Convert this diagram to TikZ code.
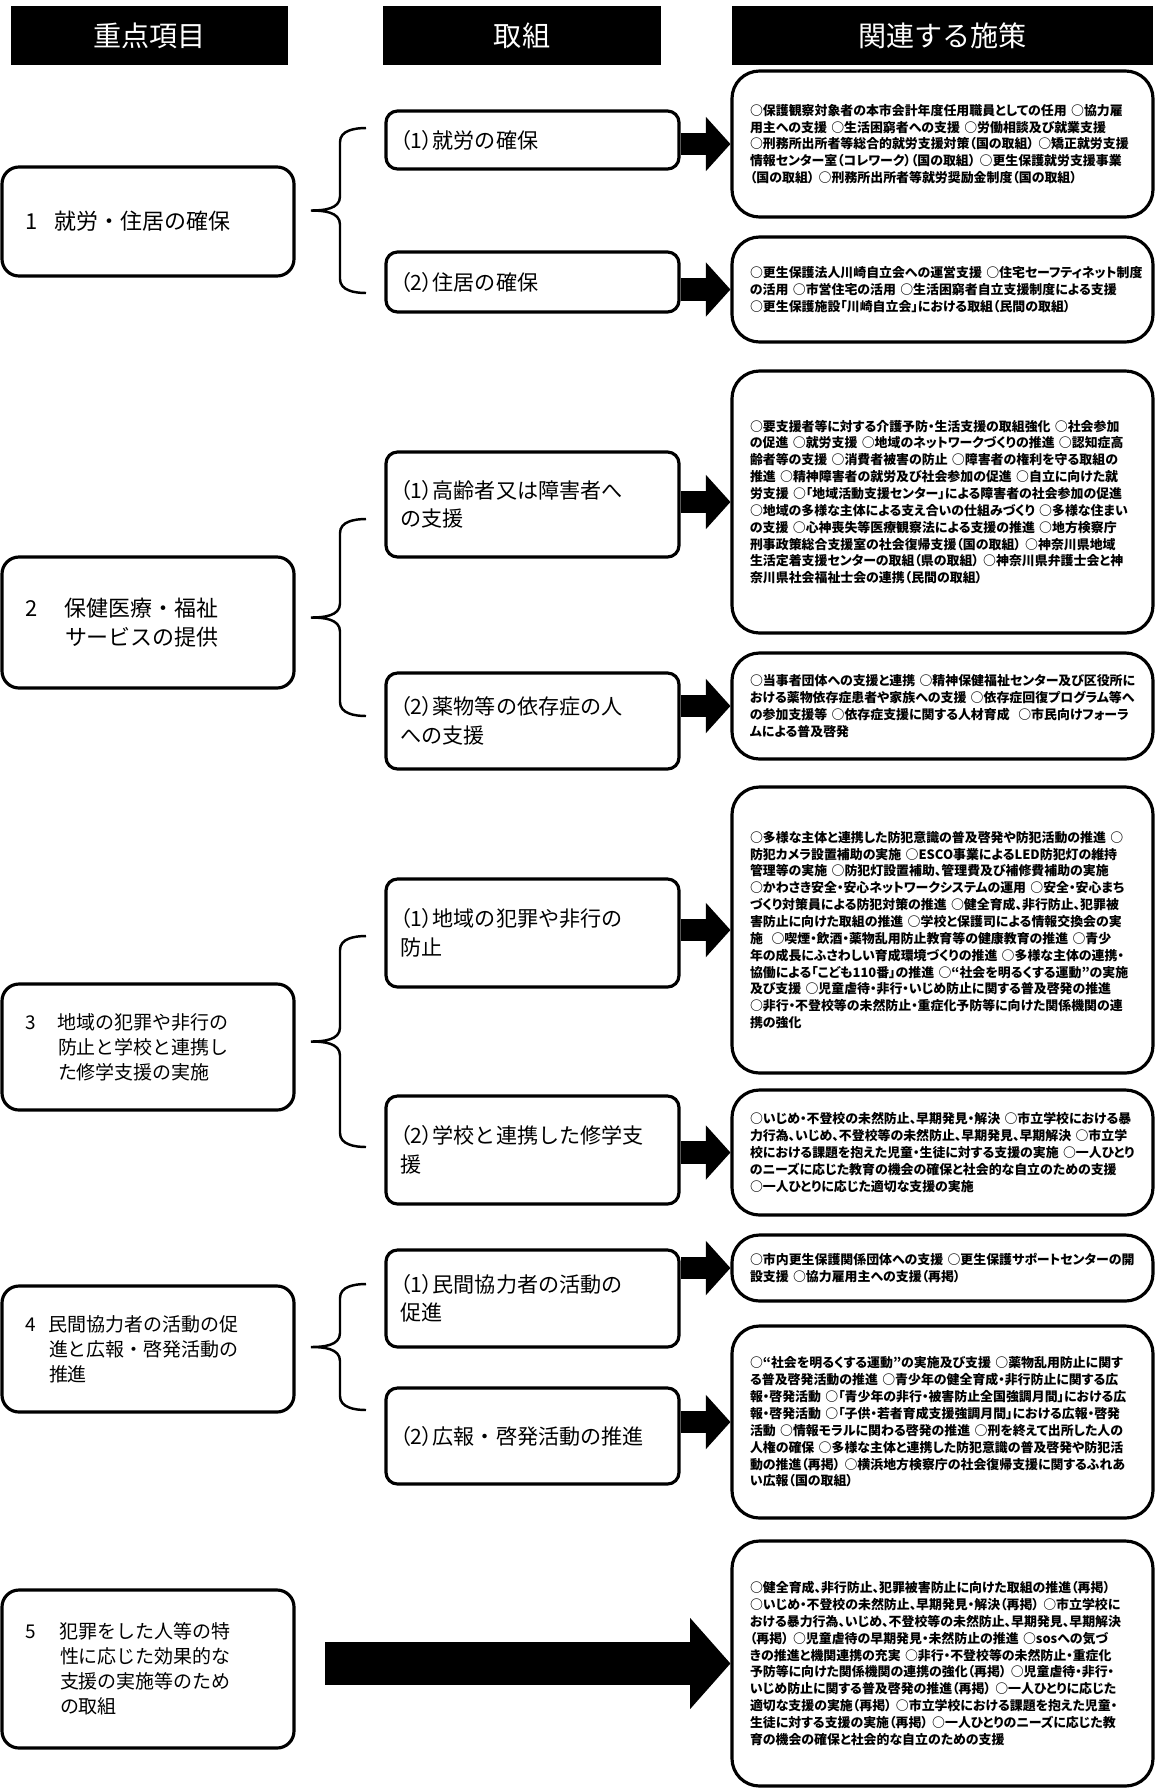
\documentclass[tikz,border=0pt]{standalone}
\usepackage{fontspec}
\setmainfont{Noto Sans CJK JP}
\newfontfamily\propjp{Noto Sans CJK JP}[RawFeature=+palt]
\usetikzlibrary{arrows.meta}

\newcommand\itemno[2]{\makebox[#1][l]{#2}}
\newcommand\actno[1]{{\propjp （#1）}}

\tikzset{
  colhead/.style={fill=black, text=white, minimum height=1.18cm, font=\fontsize{16}{19}\selectfont},
  keybox/.style={draw, line width=1.8pt, rounded corners=0.34cm, minimum width=5.84cm,
    inner xsep=0.46cm, text width=4.92cm, align=left, font=\fontsize{10.8}{14.2}\selectfont},
  actbox/.style={draw, line width=1.8pt, rounded corners=0.23cm, minimum width=5.86cm,
    inner xsep=0.28cm, text width=5.3cm, align=left, font=\fontsize{12}{16.2}\selectfont},
  policybox/.style={draw, line width=1.8pt, rounded corners=0.55cm, minimum width=8.42cm,
    inner xsep=0.36cm, text width=7.7cm, align=left, font={\propjp\bfseries\fontsize{7.35}{9.6}\selectfont}},
  toarrow/.style={line width=13pt, -{Triangle[width=31pt,length=14pt,line width=0pt]}},
  bigarrow/.style={line width=25pt, -{Triangle[width=52pt,length=23pt,line width=0pt]}},
  bracket/.style={line width=1.4pt}
}

\begin{document}
\begin{tikzpicture}
    \useasboundingbox (0,0) rectangle (23.1,-35.78);

    % column heads
    \node[colhead, minimum width=5.54cm] (h1) at (2.99,-0.71) {重点項目};
    \node[colhead, minimum width=5.56cm] (h2) at (10.44,-0.71) {取組};
    \node[colhead, minimum width=8.42cm] (h3) at (18.85,-0.71) {関連する施策};

    % key items
    \node[keybox, minimum height=2.18cm, font=\fontsize{12.5}{16.2}\selectfont] (l1) at (2.96,-4.43)
        {\itemno{0.6cm}{1}就労・住居の確保};
    \node[keybox, minimum height=2.62cm, font=\fontsize{12.5}{16.2}\selectfont] (l2) at (2.96,-12.45)
        {\itemno{0.8cm}{2}保健医療・福祉\\\hspace*{0.8cm}サービスの提供};
    \node[keybox, minimum height=2.52cm] (l3) at (2.96,-20.94)
        {\itemno{0.66cm}{3}地域の犯罪や非行の\\\hspace*{0.66cm}防止と学校と連携し\\\hspace*{0.66cm}た修学支援の実施};
    \node[keybox, minimum height=2.52cm] (l4) at (2.96,-26.98)
        {\itemno{0.48cm}{4}民間協力者の活動の促\\\hspace*{0.48cm}進と広報・啓発活動の\\\hspace*{0.48cm}推進};
    \node[keybox, minimum height=3.16cm] (l5) at (2.96,-33.38)
        {\itemno{0.7cm}{5}犯罪をした人等の特\\\hspace*{0.7cm}性に応じた効果的な\\\hspace*{0.7cm}支援の実施等のため\\\hspace*{0.7cm}の取組};

    % actions
    \node[actbox, minimum height=1.16cm] (m1a) at (10.65,-2.80) {\actno{1}就労の確保};
    \node[actbox, minimum height=1.20cm] (m1b) at (10.65,-5.64) {\actno{2}住居の確保};
    \node[actbox, minimum height=2.10cm] (m2a) at (10.65,-10.09) {\actno{1}高齢者又は障害者へ\\の支援};
    \node[actbox, minimum height=1.92cm] (m2b) at (10.65,-14.42) {\actno{2}薬物等の依存症の人\\への支援};
    \node[actbox, minimum height=2.16cm] (m3a) at (10.65,-18.66) {\actno{1}地域の犯罪や非行の\\防止};
    \node[actbox, minimum height=2.16cm] (m3b) at (10.65,-23.00) {\actno{2}学校と連携した修学支\\援};
    \node[actbox, minimum height=1.94cm] (m4a) at (10.65,-25.97) {\actno{1}民間協力者の活動の\\促進};
    \node[actbox, minimum height=1.92cm] (m4b) at (10.65,-28.72) {\actno{2}広報・啓発活動の推進};

    % related policies
    \node[policybox, minimum height=2.92cm] (r1) at (18.85,-2.88) {%
        ○保護観察対象者の本市会計年度任用職員としての任用~○協力雇\\
        用主への支援~○生活困窮者への支援~○労働相談及び就業支援\\
        ○刑務所出所者等総合的就労支援対策（国の取組）~○矯正就労支援\\
        情報センター室（コレワーク）（国の取組）~○更生保護就労支援事業\\
        （国の取組）~○刑務所出所者等就労奨励金制度（国の取組）};
    \node[policybox, minimum height=2.10cm] (r2) at (18.85,-5.79) {%
        ○更生保護法人川崎自立会への運営支援~○住宅セーフティネット制度\\
        の活用~○市営住宅の活用~○生活困窮者自立支援制度による支援\\
        ○更生保護施設「川崎自立会」における取組（民間の取組）};
    \node[policybox, minimum height=5.24cm] (r3) at (18.85,-10.04) {%
        ○要支援者等に対する介護予防・生活支援の取組強化~○社会参加\\
        の促進~○就労支援~○地域のネットワークづくりの推進~○認知症高\\
        齢者等の支援~○消費者被害の防止~○障害者の権利を守る取組の\\
        推進~○精神障害者の就労及び社会参加の促進~○自立に向けた就\\
        労支援~○「地域活動支援センター」による障害者の社会参加の促進\\
        ○地域の多様な主体による支え合いの仕組みづくり~○多様な住まい\\
        の支援~○心神喪失等医療観察法による支援の推進~○地方検察庁\\
        刑事政策総合支援室の社会復帰支援（国の取組）~○神奈川県地域\\
        生活定着支援センターの取組（県の取組）~○神奈川県弁護士会と神\\
        奈川県社会福祉士会の連携（民間の取組）};
    \node[policybox, minimum height=2.12cm] (r4) at (18.85,-14.12) {%
        ○当事者団体への支援と連携~○精神保健福祉センター及び区役所に\\
        おける薬物依存症患者や家族への支援~○依存症回復プログラム等へ\\
        の参加支援等~○依存症支援に関する人材育成~~○市民向けフォーラ\\
        ムによる普及啓発};
    \node[policybox, minimum height=5.72cm] (r5) at (18.85,-18.60) {%
        ○多様な主体と連携した防犯意識の普及啓発や防犯活動の推進~○\\
        防犯カメラ設置補助の実施~○ESCO事業によるLED防犯灯の維持\\
        管理等の実施~○防犯灯設置補助、管理費及び補修費補助の実施\\
        ○かわさき安全・安心ネットワークシステムの運用~○安全・安心まち\\
        づくり対策員による防犯対策の推進~○健全育成、非行防止、犯罪被\\
        害防止に向けた取組の推進~○学校と保護司による情報交換会の実\\
        施~~○喫煙・飲酒・薬物乱用防止教育等の健康教育の推進~○青少\\
        年の成長にふさわしい育成環境づくりの推進~○多様な主体の連携・\\
        協働による「こども110番」の推進~○“社会を明るくする運動”の実施\\
        及び支援~○児童虐待・非行・いじめ防止に関する普及啓発の推進\\
        ○非行・不登校等の未然防止・重症化予防等に向けた関係機関の連\\
        携の強化};
    \node[policybox, minimum height=2.50cm] (r6) at (18.85,-23.05) {%
        ○いじめ・不登校の未然防止、早期発見・解決~○市立学校における暴\\
        力行為、いじめ、不登校等の未然防止、早期発見、早期解決~○市立学\\
        校における課題を抱えた児童・生徒に対する支援の実施~○一人ひとり\\
        のニーズに応じた教育の機会の確保と社会的な自立のための支援\\
        ○一人ひとりに応じた適切な支援の実施};
    \node[policybox, minimum height=1.32cm] (r7) at (18.85,-25.36) {%
        ○市内更生保護関係団体への支援~○更生保護サポートセンターの開\\
        設支援~○協力雇用主への支援（再掲）};
    \node[policybox, minimum height=3.84cm] (r8) at (18.85,-28.44) {%
        ○“社会を明るくする運動”の実施及び支援~○薬物乱用防止に関す\\
        る普及啓発活動の推進~○青少年の健全育成・非行防止に関する広\\
        報・啓発活動~○「青少年の非行・被害防止全国強調月間」における広\\
        報・啓発活動~○「子供・若者育成支援強調月間」における広報・啓発\\
        活動~○情報モラルに関わる啓発の推進~○刑を終えて出所した人の\\
        人権の確保~○多様な主体と連携した防犯意識の普及啓発や防犯活\\
        動の推進（再掲）~○横浜地方検察庁の社会復帰支援に関するふれあ\\
        い広報（国の取組）};
    \node[policybox, minimum height=4.90cm] (r9) at (18.85,-33.27) {%
        ○健全育成、非行防止、犯罪被害防止に向けた取組の推進（再掲）\\
        ○いじめ・不登校の未然防止、早期発見・解決（再掲）~○市立学校に\\
        おける暴力行為、いじめ、不登校等の未然防止、早期発見、早期解決\\
        （再掲）~○児童虐待の早期発見・未然防止の推進~○sosへの気づ\\
        きの推進と機関連携の充実~○非行・不登校等の未然防止・重症化\\
        予防等に向けた関係機関の連携の強化（再掲）~○児童虐待・非行・\\
        いじめ防止に関する普及啓発の推進（再掲）~○一人ひとりに応じた\\
        適切な支援の実施（再掲）~○市立学校における課題を抱えた児童・\\
        生徒に対する支援の実施（再掲）~○一人ひとりのニーズに応じた教\\
        育の機会の確保と社会的な自立のための支援};

    % brackets: top/middle/bottom
    \foreach \t/\m/\b in {2.56/4.21/5.86, 10.38/12.35/14.32, 18.72/20.83/22.94, 25.68/26.94/28.20}
        \draw[bracket] (7.32,-\t) to[out=180,in=90] (6.80,-\t-0.28) -- (6.80,-\m+0.28)
            to[out=-90,in=0] (6.22,-\m) to[out=0,in=90] (6.80,-\m-0.28) -- (6.80,-\b+0.28)
            to[out=-90,in=180] (7.32,-\b);

    % arrows
    \foreach \m/\r in {m1a/r1, m1b/r2, m2a/r3, m2b/r4, m3a/r5, m3b/r6, m4a/r7, m4b/r8}
        \draw[toarrow] (\r.west -| \m.east) -- (\r.west);
    \coordinate (bigtail) at (6.5,-33.27);
    \draw[bigarrow] (bigtail) -- (r9.west);
\end{tikzpicture}
\end{document}
